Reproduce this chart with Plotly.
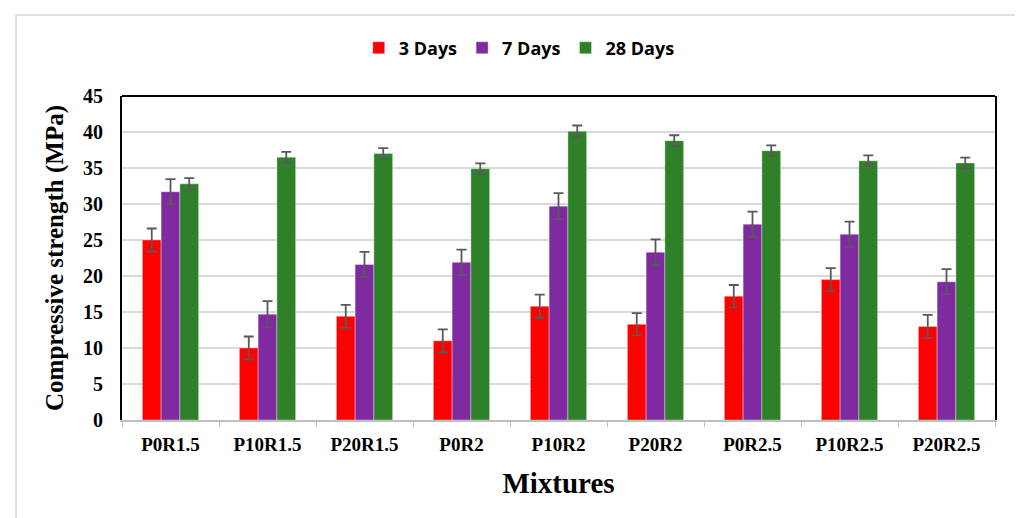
import plotly.graph_objects as go

mixtures = ["P0R1.5", "P10R1.5", "P20R1.5", "P0R2", "P10R2", "P20R2", "P0R2.5", "P10R2.5", "P20R2.5"]
days3 = [25.0, 10.0, 14.4, 11.0, 15.8, 13.3, 17.2, 19.5, 13.0]
days7 = [31.7, 14.7, 21.6, 21.9, 29.7, 23.3, 27.2, 25.8, 19.2]
days28 = [32.8, 36.5, 37.0, 34.9, 40.1, 38.8, 37.4, 36.0, 35.7]
err3 = [1.6, 1.6, 1.6, 1.6, 1.6, 1.55, 1.55, 1.6, 1.6]
err7 = [1.75, 1.8, 1.75, 1.75, 1.8, 1.8, 1.75, 1.75, 1.75]
err28 = [0.8, 0.75, 0.75, 0.75, 0.8, 0.75, 0.75, 0.75, 0.75]
series_names = ["3 Days", "7 Days", "28 Days"]
colors = ["#ff0000", "#7f2aa0", "#2e8128"]

fig = go.Figure()
for name, vals, errs, col in zip(series_names, [days3, days7, days28], [err3, err7, err28], colors):
    fig.add_trace(go.Bar(
        x=mixtures, y=vals, name=name,
        marker=dict(color=col, line=dict(color="rgba(255,255,255,0.35)", width=1)),
        error_y=dict(type="data", array=errs, visible=True, color="#595959", thickness=1.8, width=5),
    ))

fig.update_layout(
    width=1023, height=518,
    margin=dict(l=114, r=36, t=88, b=106),
    paper_bgcolor="white", plot_bgcolor="white",
    barmode="group", bargap=0.42, bargroupgap=0,
    showlegend=True,
    legend=dict(orientation="h", x=0.455, xanchor="center", y=1.148, yanchor="middle",
                font=dict(family="Open Sans", size=18, color="black", weight="bold"),
                itemwidth=30, traceorder="normal"),
    xaxis=dict(
        showgrid=False, showline=True, linecolor="#bfbfbf", linewidth=1.5,
        ticks="outside", tickson="boundaries", ticklen=5, tickcolor="#bfbfbf",
        ticklabelstandoff=6,
        tickfont=dict(family="Liberation Serif", size=19, color="black", weight="bold"),
        title=dict(text="Mixtures", font=dict(family="Liberation Serif", size=29, color="black", weight="bold"), standoff=19),
    ),
    yaxis=dict(
        range=[0, 45], dtick=5, showgrid=True, gridcolor="#d9d9d9", gridwidth=1.5,
        showline=True, linecolor="black", linewidth=2, mirror=True, zeroline=False,
        ticks="", ticklabelstandoff=13,
        tickfont=dict(family="Liberation Serif", size=20, color="black", weight="bold"),
        title=dict(text="Compressive strength (MPa)", font=dict(family="Liberation Serif", size=25, color="black", weight="bold"), standoff=12),
    ),
    shapes=[
        dict(type="line", xref="paper", yref="paper", x0=0, x1=1, y0=1, y1=1, line=dict(color="black", width=2)),
        dict(type="rect", xref="paper", yref="paper", x0=-0.1214, x1=1.0286, y0=-0.32, y1=1.25,
             line=dict(color="#d9d9d9", width=1.5), layer="below"),
    ],
)

fig.write_html("out.html")
